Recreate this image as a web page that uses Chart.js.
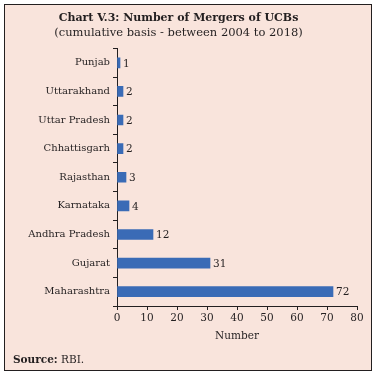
<!DOCTYPE html>
<html>
<head>
<meta charset="utf-8">
<script src="https://cdn.jsdelivr.net/npm/chart.js@4/dist/chart.umd.min.js"></script>
<style>
  body { margin: 0; background: #ffffff; }
  #frame { position: absolute; left: 4px; top: 4px; width: 366px; height: 365px;
           border: 1.5px solid #231f20; background: #f9e4dc; }
  #wrap { position: absolute; left: 0; top: 0; width: 378px; height: 376px; }
  #source { position: absolute; left: 13px; top: 353px; font: 10.5px "DejaVu Serif", serif; color: #231f20; }
</style>
</head>
<body>
<div id="frame"></div>
<div id="wrap"><canvas id="myChart" width="378" height="376"></canvas></div>
<div id="source"><b>Source:</b> RBI.</div>
<script>
  var states = ["Punjab", "Uttarakhand", "Uttar Pradesh", "Chhattisgarh", "Rajasthan",
                "Karnataka", "Andhra Pradesh", "Gujarat", "Maharashtra"];
  var mergers = [1, 2, 2, 2, 3, 4, 12, 31, 72];
  var xTicks = [0, 10, 20, 30, 40, 50, 60, 70, 80];

  var ink = '#231f20';
  var serif = '"DejaVu Serif", serif';

  // numbers at the end of each bar
  var barLabels = {
    id: 'barLabels',
    afterDatasetsDraw: function(chart) {
      var ctx = chart.ctx;
      var meta = chart.getDatasetMeta(0);
      ctx.save();
      ctx.font = '10.5px ' + serif;
      ctx.fillStyle = ink;
      ctx.textAlign = 'left';
      ctx.textBaseline = 'middle';
      meta.data.forEach(function(bar, i) {
        ctx.fillText(mergers[i], bar.x + 3, bar.y + 1);
      });
      ctx.restore();
    }
  };

  var ctx = document.getElementById('myChart').getContext('2d');
  var chart = new Chart(ctx, {
    type: 'bar',
    data: {
      labels: states,
      datasets: [{
        label: "Number of Mergers",
        backgroundColor: '#3a6bb6',
        borderWidth: 0,
        barThickness: 10,
        data: mergers
      }]
    },
    options: {
      indexAxis: 'y',
      responsive: false,
      animation: false,
      layout: { padding: { left: 0, right: 21, top: 0, bottom: 30 } },
      plugins: {
        legend: { display: false },
        tooltip: { enabled: false },
        title: {
          display: true,
          text: 'Chart V.3: Number of Mergers of UCBs',
          color: ink,
          font: { family: serif, size: 11, weight: 'bold' },
          padding: { top: 12, bottom: 1 }
        },
        subtitle: {
          display: true,
          text: '(cumulative basis - between 2004 to 2018)',
          color: ink,
          font: { family: serif, size: 11.5 },
          padding: { top: 0, bottom: 8.5 }
        }
      },
      scales: {
        x: {
          min: 0,
          max: 80,
          afterBuildTicks: function(scale) {
            scale.ticks = xTicks.map(function(v) { return { value: v }; });
          },
          afterFit: function(scale) { scale.height = 40; },
          grid: { drawOnChartArea: false, tickLength: 4, color: ink },
          border: { color: ink, width: 1 },
          ticks: { color: ink, font: { family: serif, size: 10.5 }, padding: 2, maxRotation: 0 },
          title: {
            display: true,
            text: 'Number',
            color: ink,
            font: { family: serif, size: 10.5 },
            padding: { top: 0, bottom: 3 }
          }
        },
        y: {
          afterFit: function(scale) { scale.width = 117; },
          grid: { drawOnChartArea: false, tickLength: 4, color: ink, offset: true },
          border: { color: ink, width: 1 },
          ticks: { color: ink, font: { family: serif, size: 10 }, padding: 3 }
        }
      }
    },
    plugins: [barLabels]
  });
</script>
</body>
</html>
